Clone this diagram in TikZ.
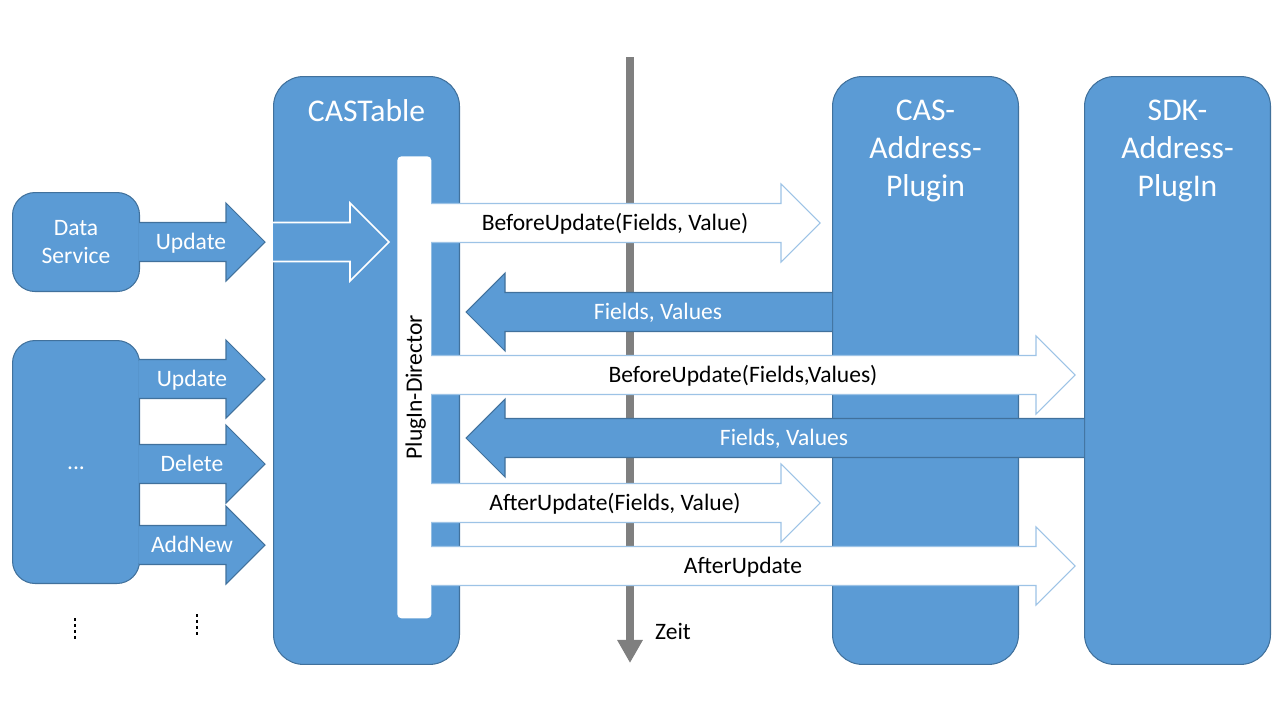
\documentclass[tikz,border=0pt]{standalone}
\usepackage{fontspec}
\setmainfont{Carlito}
\usetikzlibrary{positioning,arrows.meta}

\definecolor{boxblue}{HTML}{5B9BD5}
\definecolor{boxline}{HTML}{41719C}
\definecolor{msgline}{HTML}{9DC3E6}
\definecolor{timegray}{HTML}{7F7F7F}

\tikzset{
    lane/.style={draw=boxline, fill=boxblue, line width=0.6pt, rounded corners=0.6cm,
        minimum width=3.72cm, minimum height=11.76cm, anchor=north west, inner sep=0pt},
    source/.style={draw=boxline, fill=boxblue, line width=0.6pt, rounded corners=0.45cm,
        minimum width=2.54cm, anchor=north west, inner sep=0pt, text=white, align=center,
        font=\fontsize{13.4}{16}\selectfont},
    title/.style={font=\fontsize{18}{21.6}\selectfont, text=white, align=center, inner sep=0pt},
    lbl/.style={font=\fontsize{13.4}{16}\selectfont, inner sep=0pt, text height=10.6pt, text depth=2pt},
    msg/.style={fill=white, draw=msgline, line width=0.6pt},
    reply/.style={fill=boxblue, draw=boxline, line width=0.6pt},
    inner/.style={fill=boxblue, draw=white, line width=0.9pt},
    etc/.style={line width=1.7pt, dash pattern=on 1.5pt off 1.9pt},
}

\newcommand{\blockarrow}[4][]{%
    \pgfmathsetmacro{\headx}{#3 + (#2 < #3 ? -39 : 39)}%
    \filldraw[#1] (#2,#4-19.5) -- (\headx,#4-19.5) -- (\headx,#4-39) -- (#3,#4)
        -- (\headx,#4+39) -- (\headx,#4+19.5) -- (#2,#4+19.5);}

\begin{document}
\begin{tikzpicture}[x=0.02cm, y=-0.02cm]
        \useasboundingbox (0,0) rectangle (1280,720);

        \node[source, minimum height=1.98cm] (ds) at (12,192) {Data\\Service};
        \node[source, minimum height=4.86cm] (other) at (12,340) {};
        \node[lbl, text=white] (otherdots) at (other.center) {...};

        \node[lane] (tab) at (273,76) {};
        \node[lane] (cas) at (832,76) {};
        \node[lane] (sdk) at (1084,76) {};
        \node[title, below=0.47cm of tab.north] {CASTable};
        \node[title, below=0.47cm of cas.north] {CAS-\\Address-\\Plugin};
        \node[title, below=0.47cm of sdk.north] {SDK-\\Address-\\PlugIn};

        \node[fill=white, rounded corners=0.08cm, minimum width=0.68cm, minimum height=9.24cm,
            inner sep=0pt, anchor=north west] (dir) at (397,156) {};
        \node[lbl, rotate=90] at (dir.center) {PlugIn-Director};

        \blockarrow[inner]{273}{389}{242}

        \blockarrow[reply]{139}{265}{242}
        \blockarrow[reply]{139}{265}{379}
        \blockarrow[reply]{139}{265}{464}
        \blockarrow[reply]{139}{265}{545}
        \node[lbl, text=white] (upd) at (191,242) {Update};
        \node[lbl, text=white] (upd2) at (192,379) {Update};
        \node[lbl, text=white] (del) at (192,464) {Delete};
        \node[lbl, text=white] (add) at (192,545) {AddNew};

        \draw[etc] (75,618) -- (75,640);
        \draw[etc] (197,614) -- (197,636);

        \coordinate (t0) at (630,57);
        \coordinate (t1) at (630,663);
        \draw[timegray, line width=4.55pt, -{Triangle[width=13.7pt,length=13.1pt]}] (t0) -- (t1);
        \node[lbl] (zeit) at (673,632) {Zeit};

        \blockarrow[msg]{431}{820}{223}
        \blockarrow[reply]{832}{466}{312}
        \blockarrow[msg]{431}{1075}{375}
        \blockarrow[reply]{1084}{466}{438}
        \blockarrow[msg]{431}{820}{503}
        \blockarrow[msg]{431}{1075}{566}
        \node[lbl] (m1) at (615,223) {BeforeUpdate(Fields, Value)};
        \node[lbl, text=white] (m2) at (658,312) {Fields, Values};
        \node[lbl] (m3) at (743,375) {BeforeUpdate(Fields,Values)};
        \node[lbl, text=white] (m4) at (784,438) {Fields, Values};
        \node[lbl] (m5) at (615,503) {AfterUpdate(Fields, Value)};
        \node[lbl] (m6) at (743,566) {AfterUpdate};
\end{tikzpicture}
\end{document}
